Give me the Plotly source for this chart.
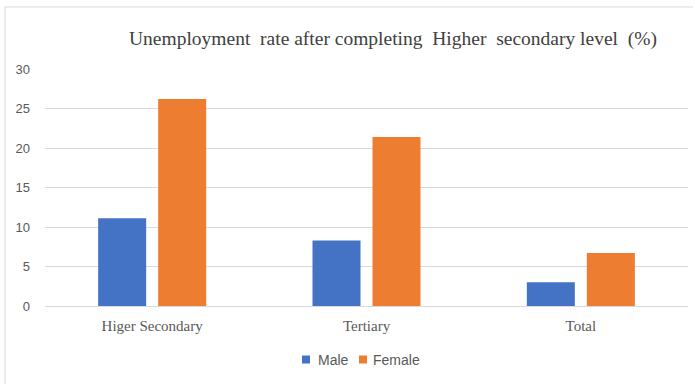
import plotly.graph_objects as go

categories = ["Higer Secondary", "Tertiary", "Total"]
male = [11.1, 8.3, 3.0]
female = [26.2, 21.4, 6.7]
y_ticks = [0, 5, 10, 15, 20, 25, 30]
series_names = ["Male", "Female"]
series_colors = ["#4472C4", "#ED7D31"]

fig = go.Figure()
fig.add_trace(go.Bar(name=series_names[0], x=categories, y=male,
                     marker=dict(color=series_colors[0], line=dict(width=0))))
fig.add_trace(go.Bar(name=series_names[1], x=categories, y=female,
                     marker=dict(color=series_colors[1], line=dict(width=0))))

L, R, T, B = 45, 7, 69, 78
W, H = 695, 384
pw, ph = W - L - R, H - T - B

def px(x):
    return (x - L) / pw

def py(y):
    return (H - B - y) / ph

fig.update_layout(
    width=W, height=H,
    margin=dict(l=L, r=R, t=T, b=B, autoexpand=False),
    paper_bgcolor="white", plot_bgcolor="white",
    barmode="group", bargap=0.44, bargroupgap=0.2,
    title=dict(text="Unemployment&nbsp; rate after completing&nbsp; Higher&nbsp; secondary level&nbsp; (%)",
               xref="container", x=393 / W, xanchor="center",
               yref="container", y=1 - 38 / H, yanchor="middle",
               font=dict(family="Liberation Serif", size=19.5, color="#404040")),
    xaxis=dict(showgrid=False, showline=False, ticks="", ticklabelstandoff=9,
               tickfont=dict(family="Liberation Serif", size=15, color="#595959")),
    yaxis=dict(range=[0, 30], tickvals=y_ticks, showgrid=True, gridcolor="#D9D9D9", gridwidth=1,
               zeroline=True, zerolinecolor="#D9D9D9", zerolinewidth=1, showline=False,
               ticklabelstandoff=14,
               tickfont=dict(family="Liberation Sans", size=13, color="#595959")),
    showlegend=False,
)

# legend drawn as keys + labels
legend_layout = [(302, 316), (359, 371)]
for name, color, (sx, tx) in zip(series_names, series_colors, legend_layout):
    fig.add_shape(type="rect", xref="paper", yref="paper",
                  x0=px(sx), x1=px(sx + 8), y0=py(355.5), y1=py(363.5),
                  line=dict(width=0), fillcolor=color)
    fig.add_annotation(text=name, xref="paper", yref="paper", x=px(tx), y=py(360),
                       xanchor="left", yanchor="middle", showarrow=False,
                       font=dict(family="Liberation Sans", size=14, color="#595959"))

fig.add_shape(type="line", xref="paper", yref="paper", x0=px(5), x1=px(5), y0=py(7), y1=py(384),
              line=dict(color="#D9D9D9", width=1))
fig.add_shape(type="line", xref="paper", yref="paper", x0=px(5), x1=px(693), y0=py(7), y1=py(7),
              line=dict(color="#D9D9D9", width=1))

fig.write_html("out.html")
